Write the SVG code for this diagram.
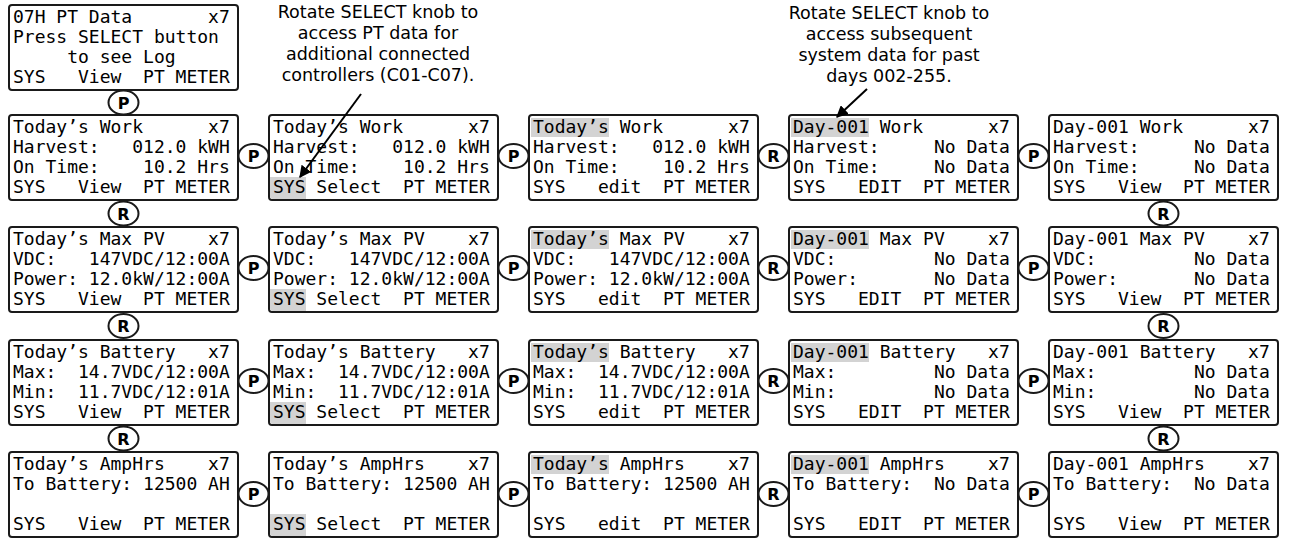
<svg xmlns="http://www.w3.org/2000/svg" width="1290" height="539" viewBox="0 0 1290 539">
<defs>
<style>
.bx{fill:#fff;stroke:#1a1a1a;stroke-width:2}
.hl{fill:#d3d3d3}
.t{font-family:"DejaVu Sans Mono","Liberation Mono",monospace;font-size:18px;fill:#000;white-space:pre}
.cap{font-family:"DejaVu Sans","Liberation Sans",sans-serif;font-size:17.5px;fill:#000;text-anchor:middle}
.el{fill:#fff;stroke:#1a1a1a;stroke-width:2}
.lb{font-family:"DejaVu Sans","Liberation Sans",sans-serif;font-size:16px;font-weight:bold;fill:#000;text-anchor:middle}
.ar{stroke:#000;stroke-width:2;fill:none}
</style>
<marker id="ah" viewBox="0 0 10 10" refX="9" refY="5" markerWidth="6" markerHeight="6" orient="auto" markerUnits="strokeWidth">
<path d="M0,0 L10,5 L0,10 z" fill="#000"/>
</marker>
</defs>

<g id="captions">
<text class="cap" x="378" y="18">Rotate SELECT knob to</text>
<text class="cap" x="378" y="39">access PT data for</text>
<text class="cap" x="378" y="60">additional connected</text>
<text class="cap" x="378" y="81">controllers (C01-C07).</text>
<text class="cap" x="889" y="19">Rotate SELECT knob to</text>
<text class="cap" x="889" y="40">access subsequent</text>
<text class="cap" x="889" y="61">system data for past</text>
<text class="cap" x="889" y="82">days 002-255.</text>
</g>

<g id="n-top">
<rect class="bx" x="9" y="5" width="229" height="85" rx="3"/>
<text class="t" xml:space="preserve" x="13" y="23">07H PT Data       x7</text>
<text class="t" xml:space="preserve" x="13" y="43">Press SELECT button</text>
<text class="t" xml:space="preserve" x="13" y="63">     to see Log</text>
<text class="t" xml:space="preserve" x="13" y="83">SYS   View  PT METER</text>
</g>

<!-- Row 1 -->
<g id="n-r1c1">
<rect class="bx" x="9" y="115" width="229" height="85" rx="3"/>
<text class="t" xml:space="preserve" x="13" y="133">Today’s Work      x7</text>
<text class="t" xml:space="preserve" x="13" y="153">Harvest:   012.0 kWH</text>
<text class="t" xml:space="preserve" x="13" y="173">On Time:    10.2 Hrs</text>
<text class="t" xml:space="preserve" x="13" y="193">SYS   View  PT METER</text>
</g>
<g id="n-r1c2">
<rect class="bx" x="269" y="115" width="229" height="85" rx="3"/>
<path class="hl" d="M270,177 H306 V199 H273 Q270,199 270,196 Z"/>
<text class="t" xml:space="preserve" x="273" y="133">Today’s Work      x7</text>
<text class="t" xml:space="preserve" x="273" y="153">Harvest:   012.0 kWH</text>
<text class="t" xml:space="preserve" x="273" y="173">On Time:    10.2 Hrs</text>
<text class="t" xml:space="preserve" x="273" y="193">SYS Select  PT METER</text>
</g>
<g id="n-r1c3">
<rect class="bx" x="529" y="115" width="229" height="85" rx="3"/>
<rect class="hl" x="531" y="118" width="78" height="19"/>
<text class="t" xml:space="preserve" x="533" y="133">Today’s Work      x7</text>
<text class="t" xml:space="preserve" x="533" y="153">Harvest:   012.0 kWH</text>
<text class="t" xml:space="preserve" x="533" y="173">On Time:    10.2 Hrs</text>
<text class="t" xml:space="preserve" x="533" y="193">SYS   edit  PT METER</text>
</g>
<g id="n-r1c4">
<rect class="bx" x="789" y="115" width="229" height="85" rx="3"/>
<rect class="hl" x="791" y="118" width="78" height="19"/>
<text class="t" xml:space="preserve" x="793" y="133">Day-001 Work      x7</text>
<text class="t" xml:space="preserve" x="793" y="153">Harvest:     No Data</text>
<text class="t" xml:space="preserve" x="793" y="173">On Time:     No Data</text>
<text class="t" xml:space="preserve" x="793" y="193">SYS   EDIT  PT METER</text>
</g>
<g id="n-r1c5">
<rect class="bx" x="1049" y="115" width="229" height="85" rx="3"/>
<text class="t" xml:space="preserve" x="1053" y="133">Day-001 Work      x7</text>
<text class="t" xml:space="preserve" x="1053" y="153">Harvest:     No Data</text>
<text class="t" xml:space="preserve" x="1053" y="173">On Time:     No Data</text>
<text class="t" xml:space="preserve" x="1053" y="193">SYS   View  PT METER</text>
</g>

<!-- Row 2 -->
<g id="n-r2c1">
<rect class="bx" x="9" y="227" width="229" height="85" rx="3"/>
<text class="t" xml:space="preserve" x="13" y="245">Today’s Max PV    x7</text>
<text class="t" xml:space="preserve" x="13" y="265">VDC:   147VDC/12:00A</text>
<text class="t" xml:space="preserve" x="13" y="285">Power: 12.0kW/12:00A</text>
<text class="t" xml:space="preserve" x="13" y="305">SYS   View  PT METER</text>
</g>
<g id="n-r2c2">
<rect class="bx" x="269" y="227" width="229" height="85" rx="3"/>
<path class="hl" d="M270,289 H306 V311 H273 Q270,311 270,308 Z"/>
<text class="t" xml:space="preserve" x="273" y="245">Today’s Max PV    x7</text>
<text class="t" xml:space="preserve" x="273" y="265">VDC:   147VDC/12:00A</text>
<text class="t" xml:space="preserve" x="273" y="285">Power: 12.0kW/12:00A</text>
<text class="t" xml:space="preserve" x="273" y="305">SYS Select  PT METER</text>
</g>
<g id="n-r2c3">
<rect class="bx" x="529" y="227" width="229" height="85" rx="3"/>
<rect class="hl" x="531" y="230" width="78" height="19"/>
<text class="t" xml:space="preserve" x="533" y="245">Today’s Max PV    x7</text>
<text class="t" xml:space="preserve" x="533" y="265">VDC:   147VDC/12:00A</text>
<text class="t" xml:space="preserve" x="533" y="285">Power: 12.0kW/12:00A</text>
<text class="t" xml:space="preserve" x="533" y="305">SYS   edit  PT METER</text>
</g>
<g id="n-r2c4">
<rect class="bx" x="789" y="227" width="229" height="85" rx="3"/>
<rect class="hl" x="791" y="230" width="78" height="19"/>
<text class="t" xml:space="preserve" x="793" y="245">Day-001 Max PV    x7</text>
<text class="t" xml:space="preserve" x="793" y="265">VDC:         No Data</text>
<text class="t" xml:space="preserve" x="793" y="285">Power:       No Data</text>
<text class="t" xml:space="preserve" x="793" y="305">SYS   EDIT  PT METER</text>
</g>
<g id="n-r2c5">
<rect class="bx" x="1049" y="227" width="229" height="85" rx="3"/>
<text class="t" xml:space="preserve" x="1053" y="245">Day-001 Max PV    x7</text>
<text class="t" xml:space="preserve" x="1053" y="265">VDC:         No Data</text>
<text class="t" xml:space="preserve" x="1053" y="285">Power:       No Data</text>
<text class="t" xml:space="preserve" x="1053" y="305">SYS   View  PT METER</text>
</g>

<!-- Row 3 -->
<g id="n-r3c1">
<rect class="bx" x="9" y="340" width="229" height="85" rx="3"/>
<text class="t" xml:space="preserve" x="13" y="358">Today’s Battery   x7</text>
<text class="t" xml:space="preserve" x="13" y="378">Max:  14.7VDC/12:00A</text>
<text class="t" xml:space="preserve" x="13" y="398">Min:  11.7VDC/12:01A</text>
<text class="t" xml:space="preserve" x="13" y="418">SYS   View  PT METER</text>
</g>
<g id="n-r3c2">
<rect class="bx" x="269" y="340" width="229" height="85" rx="3"/>
<path class="hl" d="M270,402 H306 V424 H273 Q270,424 270,421 Z"/>
<text class="t" xml:space="preserve" x="273" y="358">Today’s Battery   x7</text>
<text class="t" xml:space="preserve" x="273" y="378">Max:  14.7VDC/12:00A</text>
<text class="t" xml:space="preserve" x="273" y="398">Min:  11.7VDC/12:01A</text>
<text class="t" xml:space="preserve" x="273" y="418">SYS Select  PT METER</text>
</g>
<g id="n-r3c3">
<rect class="bx" x="529" y="340" width="229" height="85" rx="3"/>
<rect class="hl" x="531" y="343" width="78" height="19"/>
<text class="t" xml:space="preserve" x="533" y="358">Today’s Battery   x7</text>
<text class="t" xml:space="preserve" x="533" y="378">Max:  14.7VDC/12:00A</text>
<text class="t" xml:space="preserve" x="533" y="398">Min:  11.7VDC/12:01A</text>
<text class="t" xml:space="preserve" x="533" y="418">SYS   edit  PT METER</text>
</g>
<g id="n-r3c4">
<rect class="bx" x="789" y="340" width="229" height="85" rx="3"/>
<rect class="hl" x="791" y="343" width="78" height="19"/>
<text class="t" xml:space="preserve" x="793" y="358">Day-001 Battery   x7</text>
<text class="t" xml:space="preserve" x="793" y="378">Max:         No Data</text>
<text class="t" xml:space="preserve" x="793" y="398">Min:         No Data</text>
<text class="t" xml:space="preserve" x="793" y="418">SYS   EDIT  PT METER</text>
</g>
<g id="n-r3c5">
<rect class="bx" x="1049" y="340" width="229" height="85" rx="3"/>
<text class="t" xml:space="preserve" x="1053" y="358">Day-001 Battery   x7</text>
<text class="t" xml:space="preserve" x="1053" y="378">Max:         No Data</text>
<text class="t" xml:space="preserve" x="1053" y="398">Min:         No Data</text>
<text class="t" xml:space="preserve" x="1053" y="418">SYS   View  PT METER</text>
</g>

<!-- Row 4 -->
<g id="n-r4c1">
<rect class="bx" x="9" y="452" width="229" height="85" rx="3"/>
<text class="t" xml:space="preserve" x="13" y="470">Today’s AmpHrs    x7</text>
<text class="t" xml:space="preserve" x="13" y="490">To Battery: 12500 AH</text>
<text class="t" xml:space="preserve" x="13" y="530">SYS   View  PT METER</text>
</g>
<g id="n-r4c2">
<rect class="bx" x="269" y="452" width="229" height="85" rx="3"/>
<path class="hl" d="M270,514 H306 V536 H273 Q270,536 270,533 Z"/>
<text class="t" xml:space="preserve" x="273" y="470">Today’s AmpHrs    x7</text>
<text class="t" xml:space="preserve" x="273" y="490">To Battery: 12500 AH</text>
<text class="t" xml:space="preserve" x="273" y="530">SYS Select  PT METER</text>
</g>
<g id="n-r4c3">
<rect class="bx" x="529" y="452" width="229" height="85" rx="3"/>
<rect class="hl" x="531" y="455" width="78" height="19"/>
<text class="t" xml:space="preserve" x="533" y="470">Today’s AmpHrs    x7</text>
<text class="t" xml:space="preserve" x="533" y="490">To Battery: 12500 AH</text>
<text class="t" xml:space="preserve" x="533" y="530">SYS   edit  PT METER</text>
</g>
<g id="n-r4c4">
<rect class="bx" x="789" y="452" width="229" height="85" rx="3"/>
<rect class="hl" x="791" y="455" width="78" height="19"/>
<text class="t" xml:space="preserve" x="793" y="470">Day-001 AmpHrs    x7</text>
<text class="t" xml:space="preserve" x="793" y="490">To Battery:  No Data</text>
<text class="t" xml:space="preserve" x="793" y="530">SYS   EDIT  PT METER</text>
</g>
<g id="n-r4c5">
<rect class="bx" x="1049" y="452" width="229" height="85" rx="3"/>
<text class="t" xml:space="preserve" x="1053" y="470">Day-001 AmpHrs    x7</text>
<text class="t" xml:space="preserve" x="1053" y="490">To Battery:  No Data</text>
<text class="t" xml:space="preserve" x="1053" y="530">SYS   View  PT METER</text>
</g>

<g id="connectors">
<line class="ar" x1="361" y1="94" x2="300" y2="177" marker-end="url(#ah)"/>
<line class="ar" x1="867" y1="89" x2="837" y2="117" marker-end="url(#ah)"/>

<!-- vertical transitions col1 -->
<ellipse class="el" cx="123.5" cy="102.5" rx="15" ry="12"/><text class="lb" x="123.5" y="108.5">P</text>
<ellipse class="el" cx="123.5" cy="213.5" rx="15" ry="12"/><text class="lb" x="123.5" y="219.5">R</text>
<ellipse class="el" cx="123.5" cy="326" rx="15" ry="12"/><text class="lb" x="123.5" y="332">R</text>
<ellipse class="el" cx="123.5" cy="438.5" rx="15" ry="12"/><text class="lb" x="123.5" y="444.5">R</text>
<!-- vertical transitions col5 -->
<ellipse class="el" cx="1163.5" cy="213.5" rx="15" ry="12"/><text class="lb" x="1163.5" y="219.5">R</text>
<ellipse class="el" cx="1163.5" cy="326" rx="15" ry="12"/><text class="lb" x="1163.5" y="332">R</text>
<ellipse class="el" cx="1163.5" cy="438.5" rx="15" ry="12"/><text class="lb" x="1163.5" y="444.5">R</text>

<!-- horizontal transitions row1 -->
<ellipse class="el" cx="253.5" cy="156" rx="15" ry="12"/><text class="lb" x="253.5" y="162">P</text>
<ellipse class="el" cx="513.5" cy="156" rx="15" ry="12"/><text class="lb" x="513.5" y="162">P</text>
<ellipse class="el" cx="773.5" cy="156" rx="15" ry="12"/><text class="lb" x="773.5" y="162">R</text>
<ellipse class="el" cx="1033.5" cy="156" rx="15" ry="12"/><text class="lb" x="1033.5" y="162">P</text>
<!-- row2 -->
<ellipse class="el" cx="253.5" cy="268" rx="15" ry="12"/><text class="lb" x="253.5" y="274">P</text>
<ellipse class="el" cx="513.5" cy="268" rx="15" ry="12"/><text class="lb" x="513.5" y="274">P</text>
<ellipse class="el" cx="773.5" cy="268" rx="15" ry="12"/><text class="lb" x="773.5" y="274">R</text>
<ellipse class="el" cx="1033.5" cy="268" rx="15" ry="12"/><text class="lb" x="1033.5" y="274">P</text>
<!-- row3 -->
<ellipse class="el" cx="253.5" cy="381" rx="15" ry="12"/><text class="lb" x="253.5" y="387">P</text>
<ellipse class="el" cx="513.5" cy="381" rx="15" ry="12"/><text class="lb" x="513.5" y="387">P</text>
<ellipse class="el" cx="773.5" cy="381" rx="15" ry="12"/><text class="lb" x="773.5" y="387">R</text>
<ellipse class="el" cx="1033.5" cy="381" rx="15" ry="12"/><text class="lb" x="1033.5" y="387">P</text>
<!-- row4 -->
<ellipse class="el" cx="253.5" cy="494" rx="15" ry="12"/><text class="lb" x="253.5" y="500">P</text>
<ellipse class="el" cx="513.5" cy="494" rx="15" ry="12"/><text class="lb" x="513.5" y="500">P</text>
<ellipse class="el" cx="773.5" cy="494" rx="15" ry="12"/><text class="lb" x="773.5" y="500">R</text>
<ellipse class="el" cx="1033.5" cy="494" rx="15" ry="12"/><text class="lb" x="1033.5" y="500">P</text>
</g>
</svg>
